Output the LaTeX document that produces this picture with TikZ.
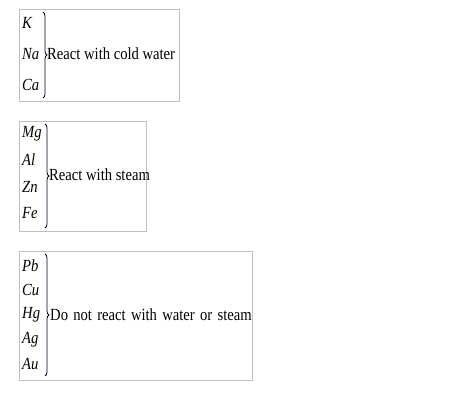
\documentclass[tikz,border=0pt]{standalone}
\usepackage{fontspec}
\setmainfont{Liberation Serif}[FakeStretch=0.86]
\usetikzlibrary{decorations.pathreplacing}

\tikzset{
  groupbox/.style={draw=black!25, line width=0.8pt},
  metal/.style={anchor=west, inner sep=0pt, font=\fontsize{17}{19}\selectfont\itshape},
  reaction/.style={anchor=west, inner sep=0pt, font=\fontsize{17}{19}\selectfont},
  groupbrace/.style={decorate, decoration={brace, amplitude=4pt}, line width=0.8pt, black!85!blue}
}

\begin{document}
\begin{tikzpicture}[x=1pt,y=-1pt]
\useasboundingbox (0,0) rectangle (451,401);
% Cold water group
\draw[groupbox] (19,9) rectangle (179,101);
\node[metal] (k) at (22,23) {K};
\node[metal] (na) at (22,54) {Na};
\node[metal] (ca) at (22,85) {Ca};
\coordinate (b1top) at (43,12);
\coordinate (b1bot) at (43,98);
\draw[groupbrace] (b1top) -- (b1bot);
\node[reaction] (cold) at (47,54) {React with cold water};
% Steam group
\draw[groupbox] (19,121) rectangle (146,231);
\node[metal] (mg) at (22,134) {Mg};
\node[metal] (al) at (22,160) {Al};
\node[metal] (zn) at (22,187) {Zn};
\node[metal] (fe) at (22,213) {Fe};
\coordinate (b2top) at (45,124);
\coordinate (b2bot) at (45,228);
\draw[groupbrace] (b2top) -- (b2bot);
\node[reaction] (steam) at (49,175) {React with steam};
% No reaction group
\draw[groupbox] (19,251) rectangle (252,380);
\node[metal] (pb) at (22,266) {Pb};
\node[metal] (cu) at (22,290) {Cu};
\node[metal] (hg) at (22,315) {Hg};
\node[metal] (ag) at (22,340) {Ag};
\node[metal] (au) at (22,364) {Au};
\coordinate (b3top) at (45,254);
\coordinate (b3bot) at (45,376);
\draw[groupbrace] (b3top) -- (b3bot);
\node[reaction] (none) at (50,315) {\spaceskip=5.3pt Do not react with water or steam};
\end{tikzpicture}
\end{document}
